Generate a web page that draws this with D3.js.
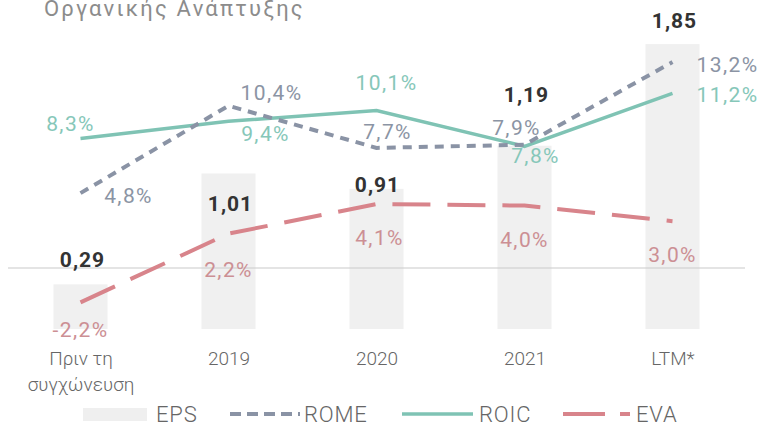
<!DOCTYPE html>
<html lang="el">
<head>
<meta charset="UTF-8">
<title>EPS, ROME, ROIC, EVA</title>
<style>
  body { margin: 0; background: #fff; }
  svg { display: block; font-family: Roboto, "Noto Sans", sans-serif; }
</style>
<script src="https://d3js.org/d3.v7.min.js"></script>
</head>
<body>
<div id="chart"></div>
<script>
// data
const categories = ["Πριν τη\nσυγχώνευση", "2019", "2020", "2021", "LTM*"];
const eps  = [0.29, 1.01, 0.91, 1.19, 1.85];
const rome = [4.8, 10.4, 7.7, 7.9, 13.2];
const roic = [8.3, 9.4, 10.1, 7.8, 11.2];
const eva  = [-2.2, 2.2, 4.1, 4.0, 3.0];

// label nudges (px) so the labels sit where the original puts them
const epsDy  = [-17, 38, 3, -44, -16];
const romeDx = [48, 43, 11, -8, 55],  romeDy = [10, -6, -9, -10, 10];
const roicDx = [-10, 37, 10, 11, 55], roicDy = [-8, 20, -20, 17, 9];
const evaDx  = [0, 0, 3, 0, 0],       evaDy  = [35, 43, 41, 41, 41];

const width = 762, height = 426;
const fmt = (v, d) => v.toFixed(d).replace(".", ",");

const svg = d3.select("#chart").append("svg")
  .attr("width", width).attr("height", height);

const x = d3.scalePoint().domain(categories).range([6.5, 746.5]).padding(0.5);
const yEps = d3.scaleLinear().domain([0, 2]).range([329, 21]);
const yPct = d3.scaleLinear().domain([-5, 15]).range([346, 34]);

// title (cut off at the top, as in the source)
svg.append("text")
  .attr("x", 44).attr("y", 16)
  .attr("fill", "#8c8c8c").attr("font-size", 22)
  .attr("letter-spacing", 2.2)
  .text("Οργανικής Ανάπτυξης");

// bars
svg.append("g").selectAll("rect")
  .data(eps)
  .join("rect")
  .attr("x", (d, i) => x(categories[i]) - 27)
  .attr("width", 54)
  .attr("y", d => yEps(d))
  .attr("height", d => yEps(0) - yEps(d))
  .attr("fill", "#f0f0f0");

// zero line
svg.append("line")
  .attr("x1", 8).attr("x2", 745)
  .attr("y1", yPct(0)).attr("y2", yPct(0))
  .attr("stroke", "#c9c9c9").attr("stroke-width", 1.2);

const line = yScale => d3.line()
  .x((d, i) => x(categories[i]))
  .y(d => yScale(d));

svg.append("path").datum(roic)
  .attr("d", line(yPct)).attr("fill", "none")
  .attr("stroke", "#7fc3b4").attr("stroke-width", 3.5);

svg.append("path").datum(rome)
  .attr("d", line(yPct)).attr("fill", "none")
  .attr("stroke", "#8a93a5").attr("stroke-width", 4)
  .attr("stroke-dasharray", "9,7");

svg.append("path").datum(eva)
  .attr("d", line(yPct)).attr("fill", "none")
  .attr("stroke", "#d8848b").attr("stroke-width", 4)
  .attr("stroke-dasharray", "38,17");

// value labels
function labels(values, yScale, dx, dy, color, weight, dec, suffix, ls) {
  svg.append("g").selectAll("text")
    .data(values)
    .join("text")
    .attr("x", (d, i) => x(categories[i]) + dx[i])
    .attr("y", (d, i) => yScale(d) + dy[i])
    .attr("text-anchor", "middle")
    .attr("font-size", 21)
    .attr("font-weight", weight)
    .attr("letter-spacing", ls)
    .attr("fill", color)
    .text(d => fmt(d, dec) + suffix);
}
labels(eps, yEps, [2, 2, 1, 2, 2], epsDy, "#333", 700, 2, "", 1);
labels(rome, yPct, romeDx, romeDy, "#8b94a4", 400, 1, "%", 1.4);
labels(roic, yPct, roicDx, roicDy, "#86c7b9", 400, 1, "%", 1.4);
labels(eva, yPct, evaDx, evaDy, "#cc8f94", 400, 1, "%", 1.4);

// category axis
const axisG = svg.append("g").attr("transform", "translate(0,365)")
  .call(d3.axisBottom(x).tickSize(0).tickPadding(0));
axisG.select(".domain").remove();
axisG.selectAll(".tick text").each(function(d) {
  const t = d3.select(this).text(null)
    .attr("font-family", "Roboto, sans-serif")
    .attr("font-size", 19).attr("font-weight", 300)
    .attr("fill", "#666").attr("y", 0).attr("dy", 0);
  d.split("\n").forEach((s, j) => {
    t.append("tspan").attr("x", 0).attr("y", j * 26).text(s);
  });
});

// legend
const lg = svg.append("g").attr("transform", "translate(0,414)");
lg.append("rect").attr("x", 83).attr("y", -6).attr("width", 64).attr("height", 13).attr("fill", "#efefef");
lg.append("line").attr("x1", 230).attr("x2", 300)
  .attr("stroke", "#8a93a5").attr("stroke-width", 4).attr("stroke-dasharray", "11,6");
lg.append("line").attr("x1", 402).attr("x2", 473)
  .attr("stroke", "#7fc3b4").attr("stroke-width", 3.5);
lg.append("line").attr("x1", 563).attr("x2", 630)
  .attr("stroke", "#d8848b").attr("stroke-width", 4).attr("stroke-dasharray", "42,15");
const legendItems = [["EPS", 156], ["ROME", 304], ["ROIC", 479], ["EVA", 636]];
lg.selectAll("text.lg").data(legendItems).join("text")
  .attr("class", "lg")
  .attr("x", d => d[1]).attr("y", 8)
  .attr("font-size", 22).attr("font-weight", 300).attr("fill", "#666")
  .attr("letter-spacing", 0.8)
  .text(d => d[0]);
</script>
</body>
</html>
